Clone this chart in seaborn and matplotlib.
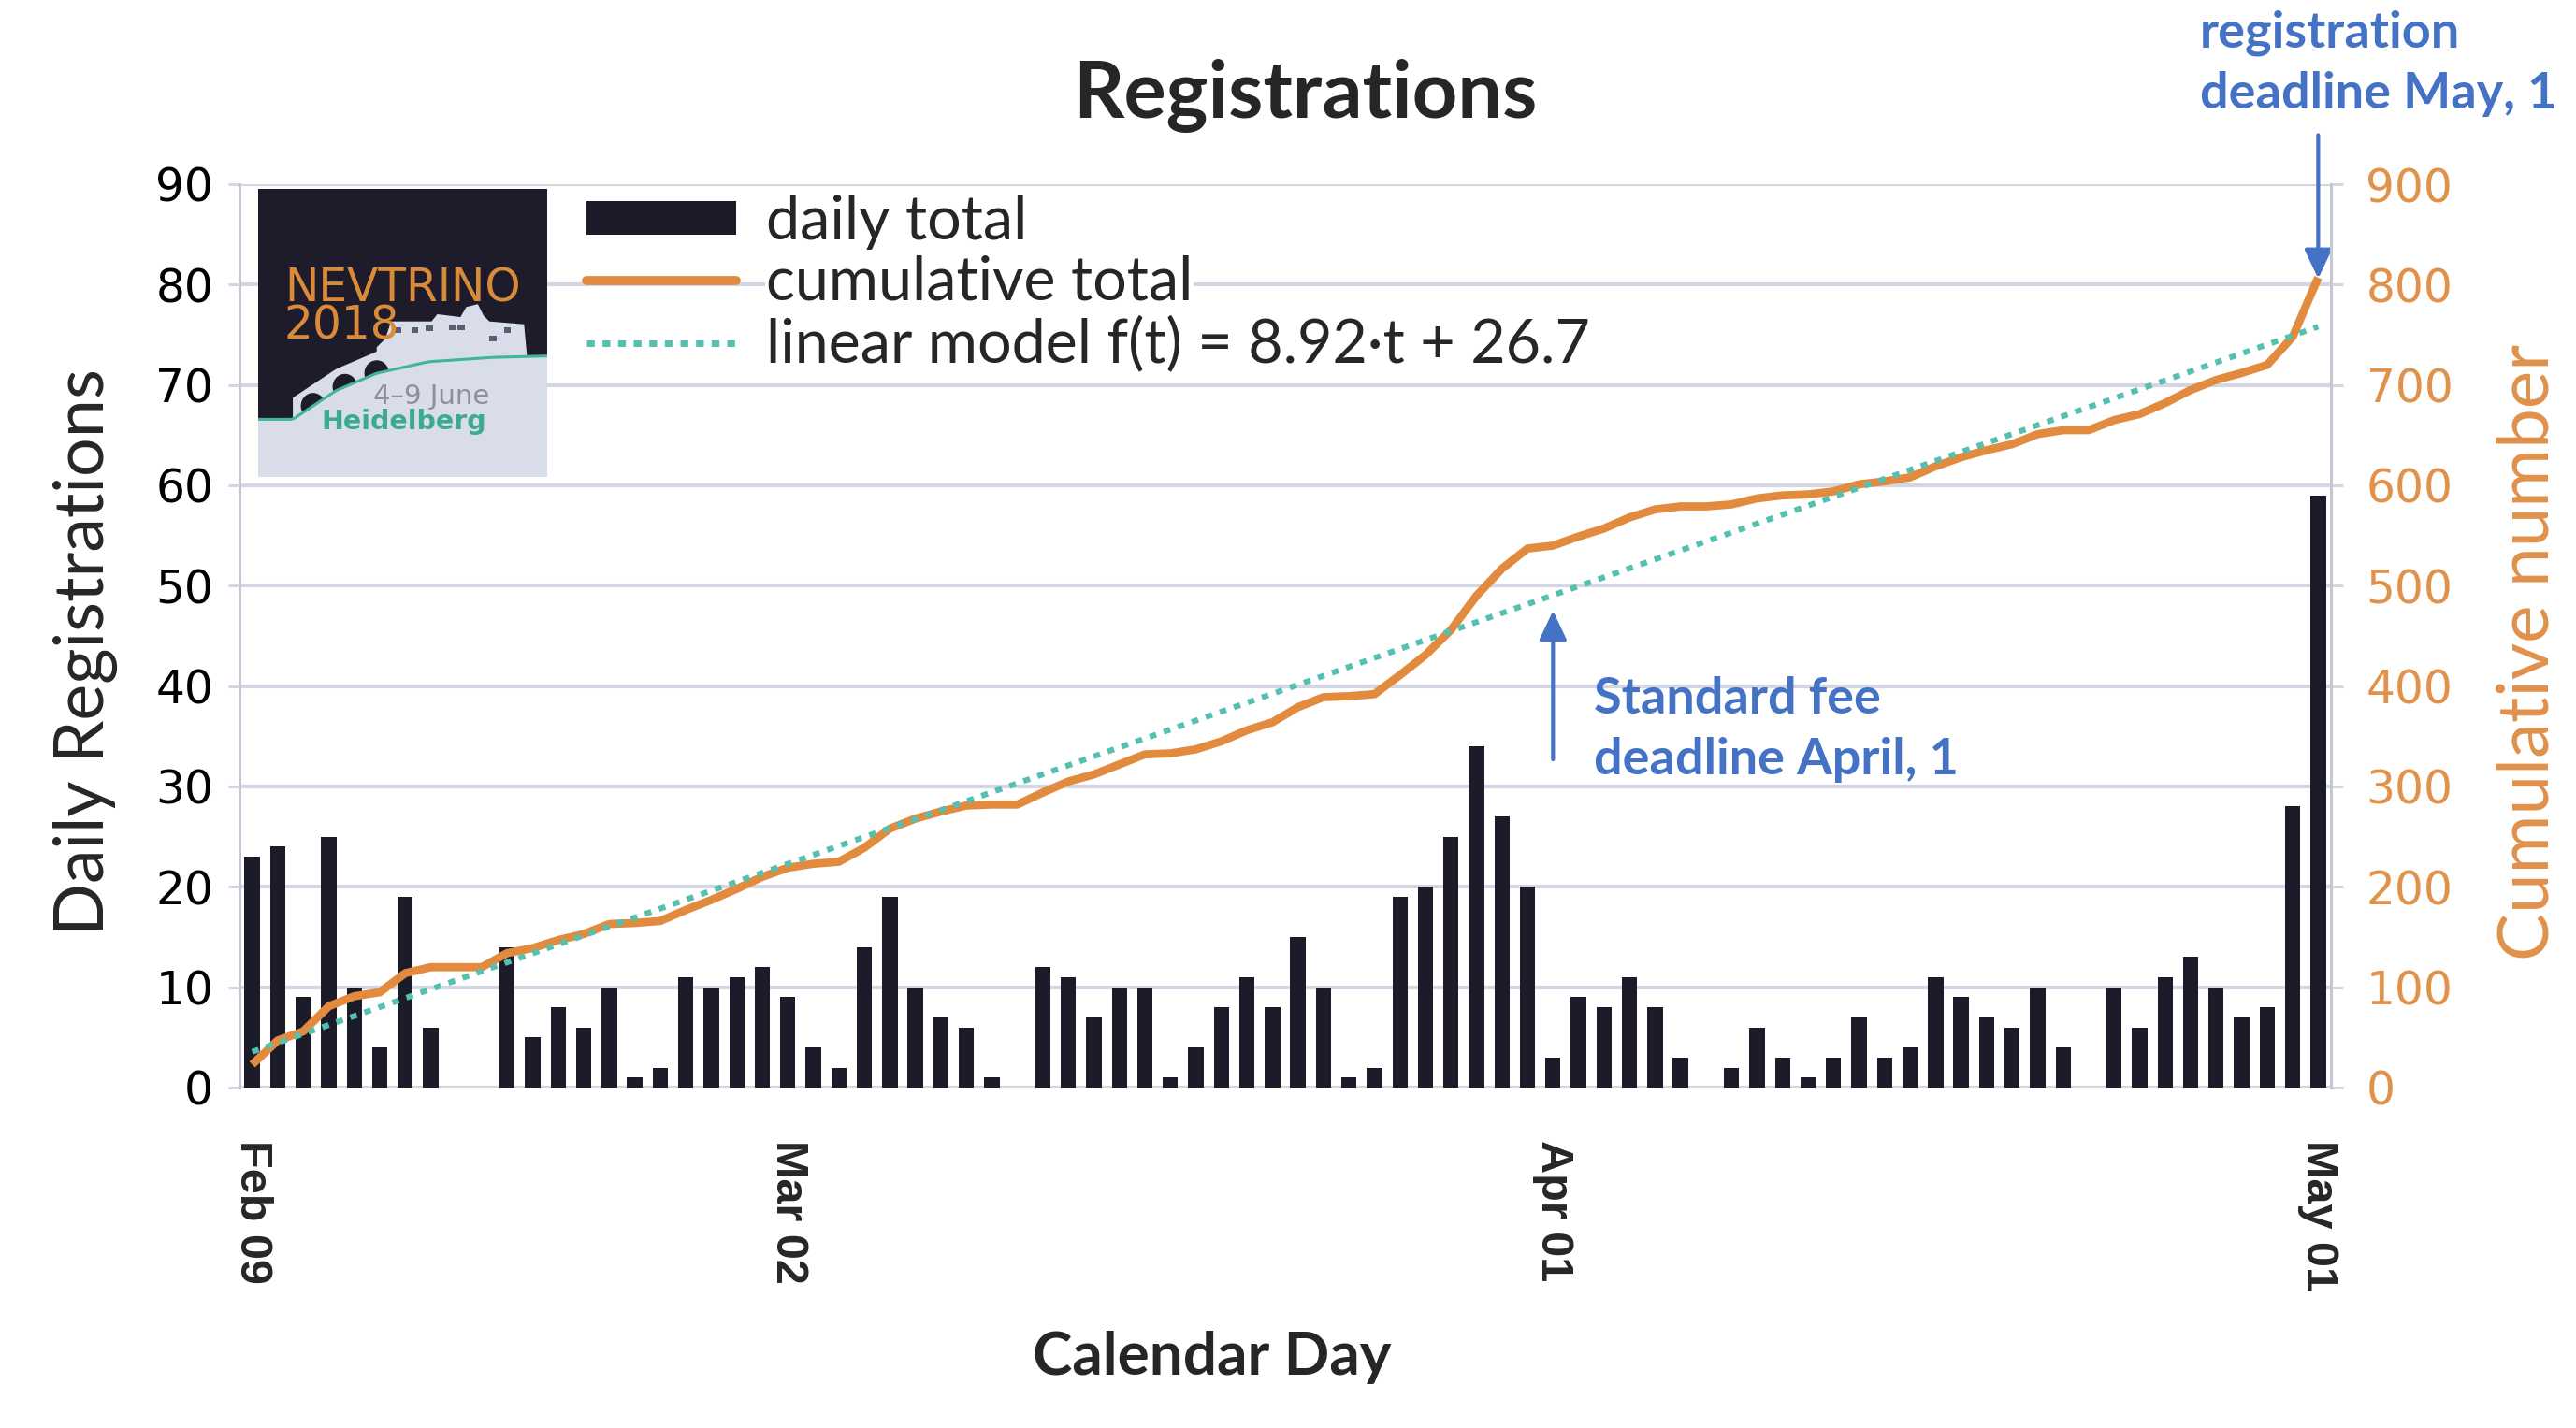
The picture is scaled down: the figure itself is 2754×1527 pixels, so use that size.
import numpy as np
import pandas as pd
import matplotlib
matplotlib.use("Agg")
import matplotlib.pyplot as plt
import seaborn as sns
from matplotlib.patches import Polygon, Rectangle, Ellipse, Patch
from matplotlib.lines import Line2D
from matplotlib.font_manager import FontProperties

# ---------------- data ----------------
start_date = "2018-02-09"
end_date = "2018-05-01"
daily_total = [23, 24, 9, 25, 10, 4, 19, 6, 0, 0,
               14, 5, 8, 6, 10, 1, 2, 11, 10, 11, 12,
               9, 4, 2, 14, 19, 10, 7, 6, 1, 0,
               12, 11, 7, 10, 10, 1, 4, 8, 11, 8, 15, 10, 1, 2,
               19, 20, 25, 34, 27, 20,
               3, 9, 8, 11, 8, 3, 0,
               2, 6, 3, 1, 3, 7, 3, 4,
               11, 9, 7, 6, 10, 4, 0,
               10, 6, 11, 13, 10, 7, 8,
               28, 59]
model_slope = 8.92
model_intercept = 26.7
tick_dates = ["2018-02-09", "2018-03-02", "2018-04-01", "2018-05-01"]
tick_labels = ["Feb 09", "Mar 02", "Apr 01", "May 01"]
left_ticks = [0, 10, 20, 30, 40, 50, 60, 70, 80, 90]
right_ticks = [0, 100, 200, 300, 400, 500, 600, 700, 800, 900]
legend_labels = ["daily total", "cumulative total", "linear model f(t) = 8.92\u00b7t + 26.7"]
fee_deadline = "2018-04-01"
reg_deadline = "2018-05-01"

# ---------------- derived table ----------------
dates = pd.date_range(start_date, end_date, freq="D")
df = pd.DataFrame({"date": dates.strftime("%Y-%m-%d"), "daily": daily_total})
df["pos"] = np.arange(len(df))
df["cumulative"] = df["daily"].cumsum()
df["t"] = df["pos"] + 1
df["model"] = model_slope * df["t"] + model_intercept

# ---------------- style ----------------
sns.set_style("white")
plt.rcParams["font.family"] = ["Lato", "DejaVu Sans"]

W, H = 2754, 1527
fig = plt.figure(figsize=(W / 100, H / 100), dpi=100)
fx = lambda px: px / W
fy = lambda py: 1 - py / H

BAR = "#1c1b29"
ORANGE = "#e28a3d"
ORANGE_TXT = "#e0914a"
TEAL = "#55bfb0"
BLUE = "#4472c4"
GRID = "#d4d7e3"
SPINE = "#c4c8d4"

ax = fig.add_axes([fx(256), fy(1163), fx(2492) - fx(256), fy(197) - fy(1163)])
sns.barplot(data=df, x="date", y="daily", color=BAR, saturation=1, width=0.6,
            edgecolor="none", ax=ax, order=list(df["date"]))
ax.set_xlim(-0.5, len(df) - 0.5)
ax.set_ylim(0, 90)
ax.set_yticks(left_ticks)
ax.set_yticklabels([str(v) for v in left_ticks], family="DejaVu Sans", fontsize=35, color="black")
ax.yaxis.grid(True, color=GRID, lw=3)
ax.xaxis.grid(False)
ax.set_axisbelow(True)
ax.set_xlabel("")
ax.set_ylabel("")

tick_pos = [int(df.index[df["date"] == d][0]) for d in tick_dates]
ax.set_xticks(tick_pos)
ax.set_xticklabels(tick_labels, rotation=270, ha="center", va="top",
                   family="Liberation Sans", weight="bold", fontsize=35)
ax.set_xticks(np.arange(-0.5, len(df), 1), minor=True)
ax.tick_params(axis="x", which="major", length=0, pad=40)
ax.tick_params(axis="x", which="minor", length=7, width=2.2, color=SPINE, direction="out")
ax.tick_params(axis="y", which="major", length=9, width=2.2, color=GRID, direction="out", pad=11)
for s in ["top", "bottom", "right"]:
    ax.spines[s].set_visible(False)
ax.spines["left"].set_color(SPINE)
ax.spines["left"].set_linewidth(2.2)

ax2 = ax.twinx()
sns.lineplot(data=df, x="pos", y="cumulative", color=ORANGE, lw=6.3, ax=ax2,
             solid_joinstyle="round", solid_capstyle="butt")
sns.lineplot(data=df, x="pos", y="model", color=TEAL, lw=4.4, ax=ax2,
             linestyle=(0, (1.2, 1.4)), dash_capstyle="butt")
ax2.set_xlim(-0.5, len(df) - 0.5)
ax2.set_ylim(0, 900)
ax2.set_yticks(right_ticks)
ax2.set_yticklabels([str(v) for v in right_ticks], family="DejaVu Sans", fontsize=35, color=ORANGE_TXT)
ax2.tick_params(axis="y", which="major", length=9, width=2.2, color=GRID, direction="out", pad=18)
ax2.set_xlabel("")
ax2.set_ylabel("")
ax2.grid(False)
for s in ["top", "bottom", "left"]:
    ax2.spines[s].set_visible(False)
ax2.spines["right"].set_color(SPINE)
ax2.spines["right"].set_linewidth(2.2)

# ---------------- annotations ----------------
fee_x = int(df.index[df["date"] == fee_deadline][0])
reg_x = int(df.index[df["date"] == reg_deadline][0])
arrow = dict(arrowstyle="-|>,head_width=0.45,head_length=0.95", lw=3, color=BLUE,
             shrinkA=0, shrinkB=0, mutation_scale=20)
ax.annotate("", xy=(fee_x, 47.5), xytext=(fee_x, 32.7), arrowprops=arrow)
ax.annotate("", xy=(reg_x, 80.6), xytext=(reg_x, 94.9), arrowprops=arrow,
            annotation_clip=False)
fig.text(fx(1704), fy(780), "Standard fee\ndeadline April, 1", ha="left", va="center",
         color=BLUE, weight="bold", fontsize=39, linespacing=1.4)
fig.text(fx(2352), fy(68), "registration\ndeadline May, 1", ha="left", va="center",
         color=BLUE, weight="bold", fontsize=39, linespacing=1.4)

# ---------------- labels ----------------
fig.text(fx(1395), fy(102), "Registrations", ha="center", va="center", weight="bold", fontsize=61)
fig.text(fx(91), fy(697), "Daily Registrations", rotation=90, ha="center", va="center", fontsize=53)
fig.text(fx(2703), fy(697), "Cumulative number", rotation=90, ha="center", va="center",
         fontsize=55, color=ORANGE_TXT)
fig.text(fx(1296), fy(1452), "Calendar Day", ha="center", va="center", weight="bold", fontsize=46)

# ---------------- legend ----------------
handles = [Patch(facecolor=BAR, edgecolor="none"),
           Line2D([], [], color=ORANGE, lw=7),
           Line2D([], [], color=TEAL, lw=5, linestyle=(0, (1.2, 1.2)))]
leg = ax2.legend(handles, legend_labels, loc="upper left",
                 bbox_to_anchor=(fx(627), fy(208)), bbox_transform=fig.transFigure,
                 frameon=False, borderpad=0, borderaxespad=0, handlelength=2.47,
                 handletextpad=0.5, labelspacing=0.09, handleheight=0.47,
                 prop=FontProperties(family="Lato", size=46.5))
for t in leg.get_texts():
    t.set_bbox(dict(facecolor="white", edgecolor="none", pad=1))

# ---------------- logo inset ----------------
lx = fig.add_axes([fx(276), fy(510), fx(585) - fx(276), fy(202) - fy(510)])
lx.set_xlim(0, 1)
lx.set_ylim(0, 1)
lx.axis("off")
DARK = "#1e1b2b"
LIGHT = "#d9dde9"
lx.add_patch(Rectangle((0, 0), 1, 1, facecolor=DARK, edgecolor="none"))
ctrl_x = [0, 0.12, 0.27, 0.41, 0.59, 0.81, 1.0]
ctrl_y = [0.2, 0.2, 0.30, 0.36, 0.40, 0.415, 0.42]
cx = np.linspace(0, 1, 80)
cy = np.interp(cx, ctrl_x, ctrl_y)
# castle
castle = [(0.41, 0.34), (0.41, 0.45), (0.44, 0.48), (0.46, 0.54), (0.60, 0.54), (0.62, 0.565),
          (0.70, 0.555), (0.72, 0.59), (0.76, 0.60), (0.78, 0.56), (0.80, 0.54), (0.92, 0.53),
          (0.93, 0.42), (0.41, 0.34)]
lx.add_patch(Polygon(castle, closed=True, facecolor=LIGHT, edgecolor="none"))
for wx, wy in [(0.47, 0.50), (0.53, 0.50), (0.58, 0.505), (0.66, 0.51), (0.69, 0.51), (0.85, 0.50), (0.80, 0.47)]:
    lx.add_patch(Rectangle((wx, wy), 0.025, 0.02, facecolor="#5a5d70", edgecolor="none"))
# bridge band
bx = np.linspace(0.12, 0.47, 30)
by = np.interp(bx, ctrl_x, ctrl_y)
band = list(zip(bx, by)) + list(zip(bx[::-1], by[::-1] + 0.075))
lx.add_patch(Polygon(band, closed=True, facecolor=LIGHT, edgecolor="none"))
for ax_c in [0.19, 0.30, 0.41]:
    ay = np.interp(ax_c, ctrl_x, ctrl_y)
    lx.add_patch(Ellipse((ax_c, ay), 0.085, 0.09, facecolor=DARK, edgecolor="none"))
# ground
ground = list(zip(cx, cy)) + [(1, 0), (0, 0)]
lx.add_patch(Polygon(ground, closed=True, facecolor=LIGHT, edgecolor="none"))
lx.plot(cx, cy, color="#3fb59b", lw=2.2)
lx.text(0.09, 0.59, "NEVTRINO\n2018", color="#d98b3a", fontsize=35, ha="left", va="center",
        multialignment="left", linespacing=0.8, family="DejaVu Sans")
lx.text(0.60, 0.28, "4\u20139 June", color="#8e8e9c", fontsize=21, ha="center", va="center",
        family="DejaVu Sans")
lx.text(0.505, 0.19, "Heidelberg", color="#3daa8f", fontsize=20.5, ha="center", va="center",
        family="DejaVu Sans", weight="bold")

fig.savefig("out.png", dpi=100, facecolor="white")
